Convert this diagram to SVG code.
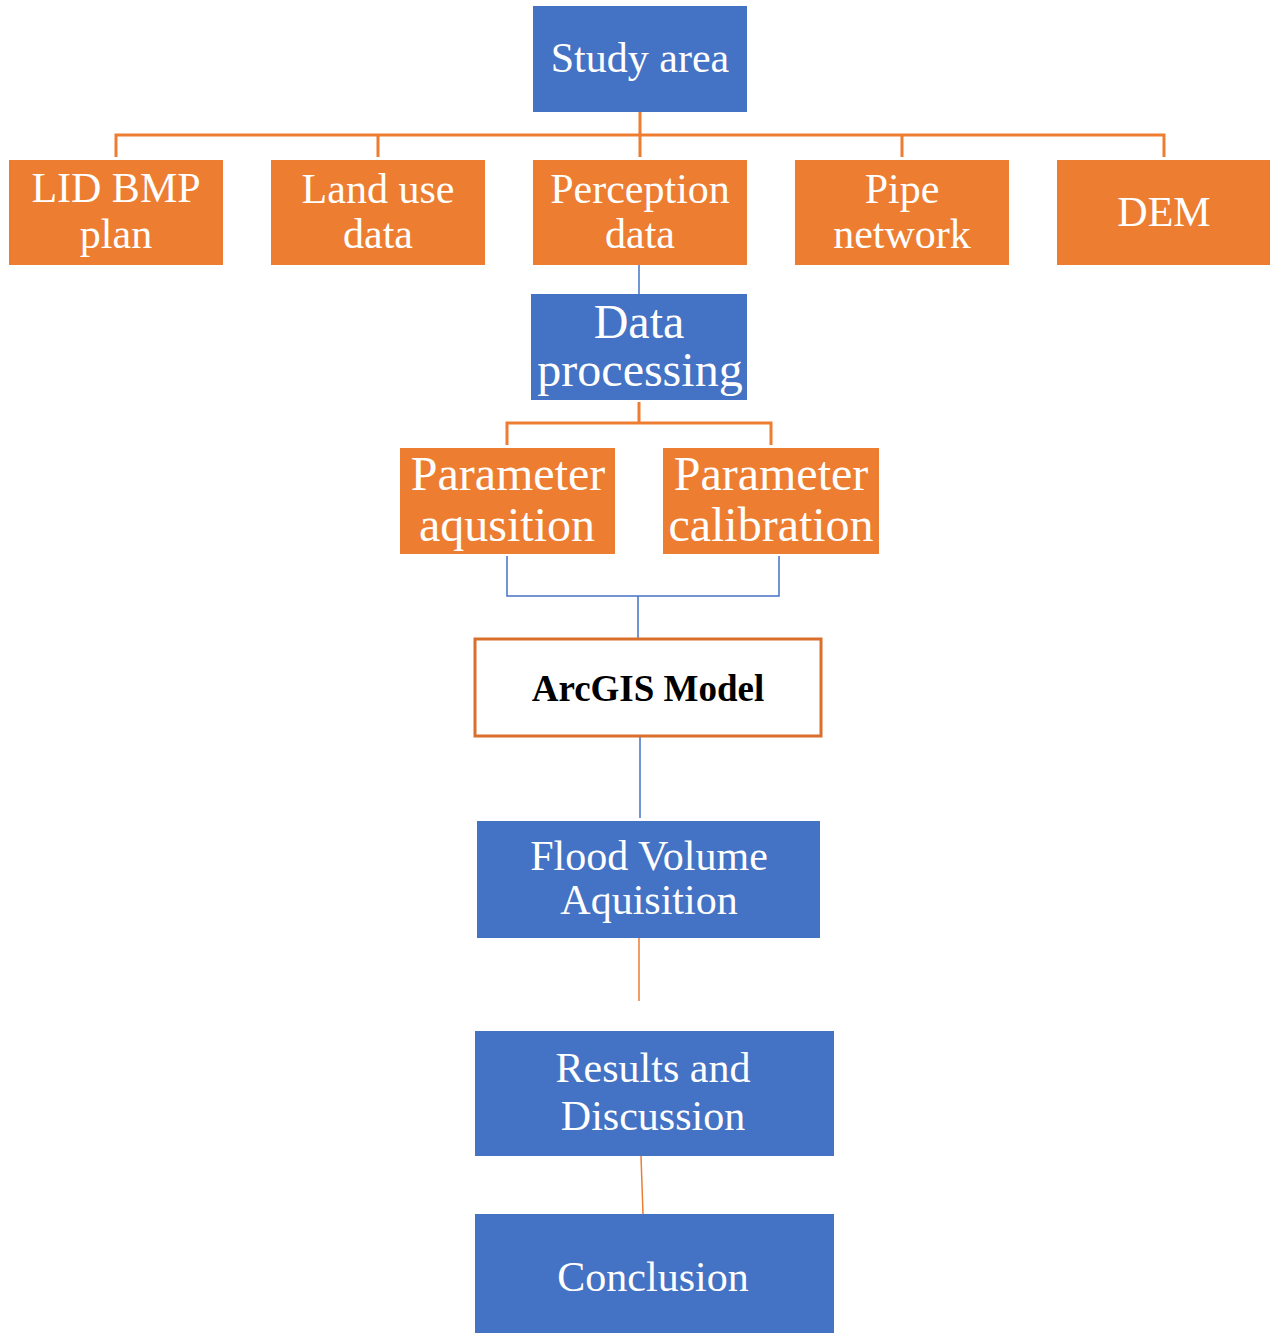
<svg xmlns="http://www.w3.org/2000/svg" width="1270" height="1333" viewBox="0 0 1270 1333">
<style>
.blue{fill:#4472C4}
.orange{fill:#ED7D31}
.t{font-family:"Liberation Serif","Times New Roman",serif;fill:#fff;text-anchor:middle;font-size:42px}
.tb{font-size:48px}
.oc{stroke:#ED7D31;stroke-width:3;fill:none}
.bc{stroke:#4472C4;stroke-width:1.5;fill:none}
</style>
<rect width="1270" height="1333" fill="#fff"/>
<g id="connectors">
<path class="oc" d="M640 112V135M116 157V135H1164V157M378 135V157M640 135V157M902 135V157"/>
<path class="bc" d="M639 265V294"/>
<path class="oc" d="M639 402V423M507 445V423H771V445"/>
<path class="bc" d="M507 556V596H779V556M638 596V662"/>
<path class="bc" d="M640 737V818"/>
<path class="oc" style="stroke-width:1.5" d="M639 938V1001"/>
<path class="oc" style="stroke-width:1.5" d="M641 1156L643 1214"/>
</g>
<g id="study-area"><rect class="blue" x="533" y="6" width="214" height="106"/><text class="t" x="640" y="72">Study area</text></g>
<g id="lid-bmp"><rect class="orange" x="9" y="160" width="214" height="105"/><text class="t" x="116" y="202">LID BMP</text><text class="t" x="116" y="248">plan</text></g>
<g id="land-use"><rect class="orange" x="271" y="160" width="214" height="105"/><text class="t" x="378" y="203">Land use</text><text class="t" x="378" y="248">data</text></g>
<g id="perception"><rect class="orange" x="533" y="160" width="214" height="105"/><text class="t" x="640" y="203">Perception</text><text class="t" x="640" y="248">data</text></g>
<g id="pipe"><rect class="orange" x="795" y="160" width="214" height="105"/><text class="t" x="902" y="203">Pipe</text><text class="t" x="902" y="248">network</text></g>
<g id="dem"><rect class="orange" x="1057" y="160" width="213" height="105"/><text class="t" x="1164" y="226">DEM</text></g>
<g id="data-processing"><rect class="blue" x="531" y="294" width="216" height="106"/><text class="t tb" x="639" y="338">Data</text><text class="t tb" x="640" y="386">processing</text></g>
<g id="param-aq"><rect class="orange" x="400" y="448" width="215" height="106"/><text class="t tb" x="508" y="490">Parameter</text><text class="t tb" x="507" y="541">aqusition</text></g>
<g id="param-cal"><rect class="orange" x="663" y="448" width="216" height="106"/><text class="t tb" x="771" y="490">Parameter</text><text class="t tb" x="771" y="541">calibration</text></g>
<g id="arcgis"><rect x="475" y="639" width="346" height="97" fill="#fff" stroke="#DA6E2B" stroke-width="3"/><text x="648" y="701" font-family="Liberation Serif,serif" font-weight="bold" font-size="37" text-anchor="middle" fill="#000">ArcGIS Model</text></g>
<g id="flood"><rect class="blue" x="477" y="821" width="343" height="117"/><text class="t" x="649" y="870">Flood Volume</text><text class="t" x="649" y="914">Aquisition</text></g>
<g id="results"><rect class="blue" x="475" y="1031" width="359" height="125"/><text class="t" x="653" y="1082">Results and</text><text class="t" x="653" y="1130">Discussion</text></g>
<g id="conclusion"><rect class="blue" x="475" y="1214" width="359" height="119"/><text class="t" x="653" y="1291">Conclusion</text></g>
</svg>
